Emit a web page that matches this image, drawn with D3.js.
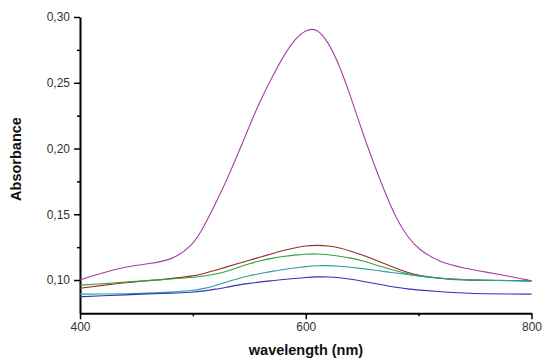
<!DOCTYPE html>
<html><head><meta charset="utf-8">
<script src="https://cdn.jsdelivr.net/npm/d3@7"></script>
<style>body{margin:0;background:#fff}svg{display:block}</style>
</head><body><svg id="c" width="542" height="358"></svg>
<script>
const wavelengths = [400,420,440,460,480,500,510,520,530,540,550,560,570,580,590,600,610,620,630,640,650,660,670,680,690,700,720,740,760,780,800];
const purple = [0.100,0.1055,0.110,0.1125,0.1145,0.126,0.141,0.158,0.176,0.196,0.217,0.237,0.254,0.270,0.283,0.2905,0.2915,0.281,0.263,0.239,0.213,0.189,0.167,0.147,0.133,0.123,0.113,0.109,0.106,0.103,0.0995];
const red = [0.0937,0.096,0.098,0.0995,0.101,0.103,0.1048,0.1075,0.110,0.1125,0.115,0.1175,0.120,0.1225,0.1245,0.126,0.1265,0.126,0.1245,0.122,0.119,0.1158,0.1123,0.109,0.1058,0.1035,0.101,0.100,0.0998,0.0996,0.0995];
const green = [0.0962,0.097,0.0985,0.0995,0.1008,0.102,0.103,0.1045,0.1065,0.1095,0.1125,0.1148,0.1165,0.118,0.119,0.1197,0.12,0.1193,0.1182,0.1167,0.1148,0.112,0.1095,0.107,0.1048,0.103,0.1012,0.1003,0.0998,0.0996,0.0995];
const teal = [0.0893,0.0893,0.0895,0.090,0.0907,0.092,0.0935,0.0958,0.0985,0.101,0.1033,0.105,0.1066,0.108,0.1092,0.1102,0.111,0.111,0.1105,0.1097,0.1087,0.1076,0.1064,0.1053,0.1042,0.1031,0.1012,0.1004,0.0998,0.0994,0.099];
const blue = [0.0873,0.088,0.0887,0.0895,0.090,0.0907,0.0917,0.093,0.0946,0.0962,0.0975,0.0986,0.0995,0.1004,0.1012,0.102,0.1025,0.1024,0.1018,0.1006,0.0991,0.0976,0.096,0.0944,0.0932,0.0924,0.091,0.090,0.0895,0.0893,0.0893];
const seriesNames = ["purple","red","green","teal","blue"];
const seriesValues = [purple, red, green, teal, blue];
const seriesColors = ["#a83ca8","#9c2b2b","#35a035","#2e9e9e","#3434b8"];
const xTicks = [400,600,800];
const xMinor = [500,700];
const yTicks = [0.10,0.15,0.20,0.25,0.30];
const yMinor = [0.125,0.175,0.225,0.275];

const svg = d3.select("#c");
const x = d3.scaleLinear().domain([400,800]).range([80,531.5]);
const y = d3.scaleLinear().domain([0.0747,0.30]).range([313.3,17]);
const fmt = v => d3.format(".2f")(v).replace(".", ",");
const FF = "Liberation Sans, Arial, sans-serif";

const gxm = svg.append("g").attr("transform","translate(0,313.3)")
  .call(d3.axisBottom(x).tickValues(xMinor).tickSize(3).tickFormat(""));
const gym = svg.append("g").attr("transform","translate(80,0)")
  .call(d3.axisLeft(y).tickValues(yMinor).tickSize(3).tickFormat(""));
[gxm,gym].forEach(g=>{g.select(".domain").remove(); g.selectAll("line").attr("stroke","#000").attr("stroke-width",1.5);});

const gx = svg.append("g").attr("transform","translate(0,313.3)")
  .call(d3.axisBottom(x).tickValues(xTicks).tickSize(6).tickSizeOuter(0).tickPadding(3).tickFormat(d=>d));
const gy = svg.append("g").attr("transform","translate(80,0)")
  .call(d3.axisLeft(y).tickValues(yTicks).tickSize(6).tickSizeOuter(0).tickPadding(4).tickFormat(fmt));
[gx,gy].forEach(g=>{
  g.select(".domain").attr("stroke","#000").attr("stroke-width",2);
  g.selectAll(".tick line").attr("stroke","#000").attr("stroke-width",1.5);
  g.selectAll("text").attr("fill","#333").attr("font-family",FF).attr("font-size",12);
});

const line = d3.line().x((d,i)=>x(wavelengths[i])).y(d=>y(d)).curve(d3.curveBasis);
svg.append("g").selectAll("path").data(seriesValues).join("path")
  .attr("d", line).attr("fill","none")
  .attr("stroke",(d,i)=>seriesColors[i]).attr("stroke-width",1.1);

svg.append("text").attr("x",306).attr("y",355).attr("text-anchor","middle")
  .attr("font-family",FF).attr("font-weight","bold").attr("font-size",14.5)
  .attr("fill","#111").text("wavelength (nm)");
svg.append("text").attr("transform","translate(21,159) rotate(-90)").attr("text-anchor","middle")
  .attr("font-family",FF).attr("font-weight","bold").attr("font-size",14.5)
  .attr("fill","#111").text("Absorbance");
</script></body></html>
